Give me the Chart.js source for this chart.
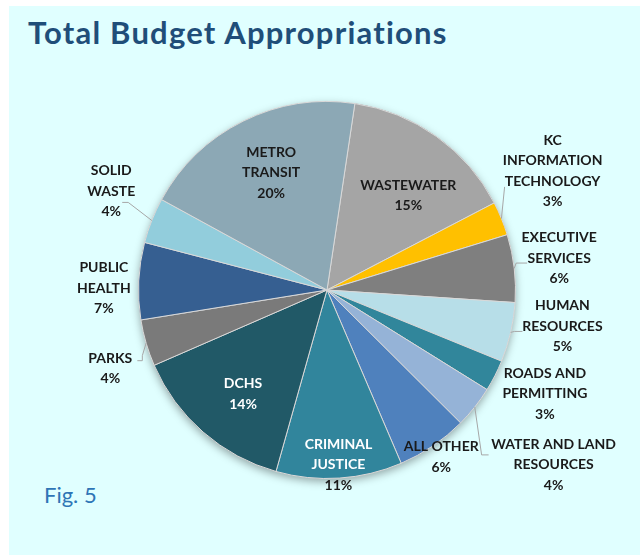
<!DOCTYPE html>
<html><head><meta charset="utf-8">
<script src="https://cdn.jsdelivr.net/npm/chart.js@4.4.1/dist/chart.umd.min.js"></script>
<style>
html,body{margin:0;padding:0;background:#fff;width:640px;height:555px;overflow:hidden;}
#panel{position:absolute;left:9px;top:6px;width:631px;height:549px;background:#E0FFFF;}
#title{position:absolute;left:28px;top:13px;font:bold 31px Lato, sans-serif;letter-spacing:1.2px;color:#1F4E79;white-space:nowrap;}
#fig{position:absolute;left:44px;top:481px;font:22px Lato, sans-serif;color:#2E75B6;white-space:nowrap;}
canvas{position:absolute;left:0;top:0;}
</style></head><body>
<div id="panel"></div>
<div id="title">Total Budget Appropriations</div>
<div id="fig">Fig. 5</div>
<canvas id="c" width="640" height="555"></canvas>
<script>
// ---- data (clockwise from the top) ----
const categories = ['Wastewater','KC Information Technology','Executive Services','Human Resources','Roads and Permitting','Water and Land Resources','All Other','Criminal Justice','DCHS','Parks','Public Health','Solid Waste','Metro Transit'];
const shares = [15.0, 2.9, 5.8, 5.1, 2.7, 3.6, 6.1, 10.8, 14.1, 4.0, 6.6, 3.9, 19.4];
const shareLabels = ['15%','3%','6%','5%','3%','4%','6%','11%','14%','4%','7%','4%','20%'];
const nameLines = [
  ['WASTEWATER'],
  ['KC','INFORMATION','TECHNOLOGY'],
  ['EXECUTIVE','SERVICES'],
  ['HUMAN','RESOURCES'],
  ['ROADS AND','PERMITTING'],
  ['WATER AND LAND','RESOURCES'],
  ['ALL OTHER'],
  ['CRIMINAL','JUSTICE'],
  ['DCHS'],
  ['PARKS'],
  ['PUBLIC','HEALTH'],
  ['SOLID','WASTE'],
  ['METRO','TRANSIT']
];
const sliceColors = ['#A5A5A5','#FFC000','#7F7F7F','#B7DEE8','#31869B','#95B3D7','#4F81BD','#31859C','#215967','#7A7A7A','#365F91','#92CDDC','#8CA8B5'];

// ---- label placement styles (radius factor along mid-angle + nudge) ----
const D='#1A1A1A', W='#FFFFFF';
const labelStyle = [
  {k:0.66, dx:9,  dy:7,  colors:[D,D]},
  {k:1.345,dx:-9, dy:-23,colors:[D,D,D,D], leader:[[-48,16]]},
  {k:1.24, dx:0,  dy:-5, colors:[D,D,D], leader:[[-43,5],[-32,5]]},
  {k:1.26, dx:4,  dy:-17,colors:[D,D,D], leader:[[-48,5],[-40,5]]},
  {k:1.28, dx:3,  dy:-6, colors:[D,D,D]},
  {k:1.52, dx:2,  dy:-3, colors:[D,D,D], leader:[[-72,-10],[-65,-10]]},
  {k:1.07, dx:1,  dy:0,  colors:[D,D]},
  {k:0.93, dx:0,  dy:0,  colors:[W,W,D]},
  {k:0.71, dx:4,  dy:3,  colors:[W,W]},
  {k:1.22, dx:4,  dy:14, colors:[D,D], leader:[[32,-13],[32,-8],[27,-8]]},
  {k:1.185,dx:0,  dy:9,  colors:[D,D,D]},
  {k:1.26, dx:5,  dy:-11,colors:[D,D,D], leader:[[17,11],[11,11]]},
  {k:0.69, dx:2,  dy:-1, colors:[D,D,D]}
];

const labelPlugin = {
  id:'sliceLabels',
  beforeDatasetsDraw(chart){
    const a = chart.getDatasetMeta(0).data[0];
    const ctx = chart.ctx;
    ctx.save();
    ctx.shadowColor='rgba(0,0,0,0.35)'; ctx.shadowBlur=8; ctx.shadowOffsetY=3;
    ctx.beginPath(); ctx.arc(a.x, a.y, a.outerRadius, 0, Math.PI*2);
    ctx.fillStyle='#9a9a9a'; ctx.fill();
    ctx.restore();
  },
  afterDatasetsDraw(chart){
    const meta = chart.getDatasetMeta(0);
    const ctx = chart.ctx;
    meta.data.forEach((arc,i)=>{
      const p = arc.getProps(['x','y','startAngle','endAngle','outerRadius'], true);
      const mid = (p.startAngle+p.endAngle)/2;
      const r = p.outerRadius;
      const s = labelStyle[i];
      const lx = p.x + Math.cos(mid)*r*s.k + s.dx;
      const ly = p.y + Math.sin(mid)*r*s.k + s.dy;
      if (s.leader){
        ctx.save();
        ctx.strokeStyle='#A6A6A6'; ctx.lineWidth=1;
        ctx.beginPath();
        ctx.moveTo(p.x+Math.cos(mid)*r, p.y+Math.sin(mid)*r);
        s.leader.forEach(q=>ctx.lineTo(lx+q[0], ly+q[1]));
        ctx.stroke();
        ctx.restore();
      }
      const lines = nameLines[i].concat([shareLabels[i]]);
      const lh = 20.5;
      ctx.save();
      ctx.font = 'bold 14px Lato, sans-serif';
      ctx.textAlign='center'; ctx.textBaseline='middle';
      lines.forEach((t,j)=>{
        ctx.fillStyle = s.colors[j] || D;
        ctx.fillText(t, lx, ly + (j-(lines.length-1)/2)*lh);
      });
      ctx.restore();
    });
  }
};

new Chart(document.getElementById('c'), {
  type:'pie',
  data:{
    labels: categories,
    datasets:[{
      data: shares,
      backgroundColor: sliceColors,
      borderColor:'#D9D9D9',
      borderWidth:1
    }]
  },
  options:{
    responsive:false,
    animation:false,
    events:[],
    rotation:8.5,
    layout:{padding:{left:138,right:124,top:101,bottom:76}},
    plugins:{legend:{display:false},tooltip:{enabled:false},title:{display:false}}
  },
  plugins:[labelPlugin]
});
</script>
</body></html>
